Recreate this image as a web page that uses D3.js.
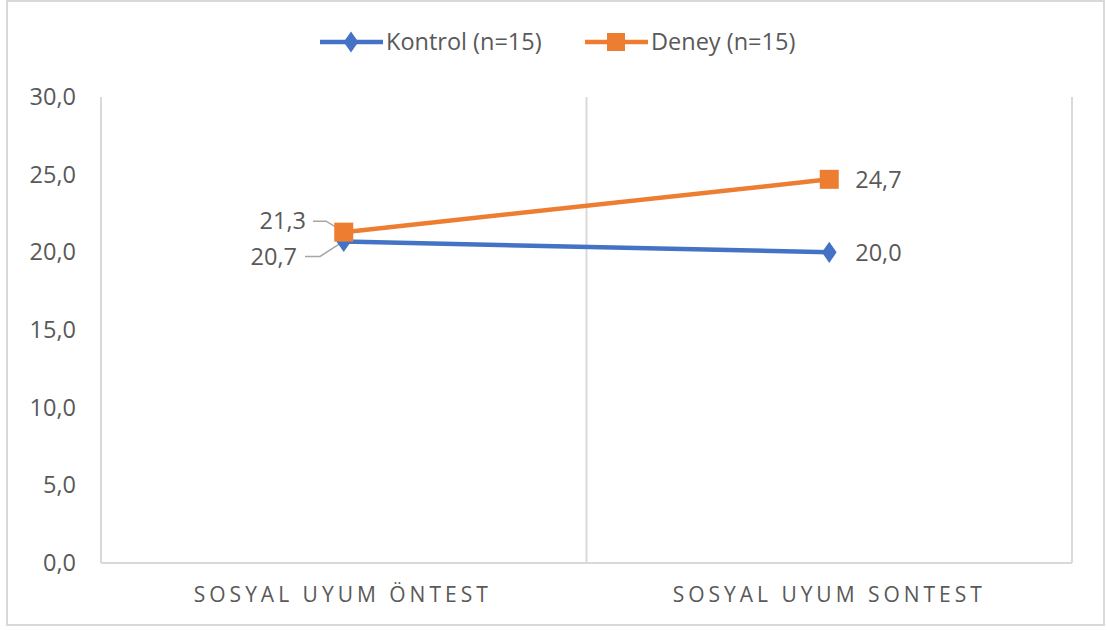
<!DOCTYPE html>
<html><head><meta charset="utf-8">
<script src="https://cdn.jsdelivr.net/npm/d3@7"></script>
<style>
html,body{margin:0;padding:0;background:#fff;}
svg{display:block;}
</style></head>
<body>
<script>
const categories = ["SOSYAL UYUM ÖNTEST", "SOSYAL UYUM SONTEST"];
const seriesNames = ["Kontrol (n=15)", "Deney (n=15)"];
const kontrolValues = [20.7, 20.0];
const deneyValues = [21.3, 24.7];
const yTicks = [0, 5, 10, 15, 20, 25, 30];

const W = 1107, H = 630;
const margin = {left: 101, right: 35, top: 97, bottom: 67};
const svg = d3.select("body").append("svg").attr("width", W).attr("height", H);
const FS = 23.5;

// outer border
svg.append("rect").attr("x", 7).attr("y", 1).attr("width", 1097).attr("height", 624)
  .attr("fill", "#fff").attr("stroke", "#d9d9d9").attr("stroke-width", 2);

const x = d3.scaleBand().domain(categories).range([margin.left, W - margin.right]);
const y = d3.scaleLinear().domain([0, 30]).range([H - margin.bottom, margin.top]);

// vertical category gridlines
const bounds = [x.range()[0], ...categories.map(c => x(c) + x.bandwidth())];
svg.append("g").selectAll("line").data(bounds).join("line")
  .attr("x1", d => d).attr("x2", d => d)
  .attr("y1", y(30)).attr("y2", y(0))
  .attr("stroke", "#d9d9d9").attr("stroke-width", 2);

// bottom axis line
svg.append("line").attr("x1", x.range()[0]).attr("x2", x.range()[1])
  .attr("y1", y(0)).attr("y2", y(0)).attr("stroke", "#d9d9d9").attr("stroke-width", 2);

const fmt = v => d3.format(".1f")(v).replace(".", ",");

// y axis labels
const yAxis = d3.axisLeft(y).tickValues(yTicks).tickSize(0).tickPadding(25).tickFormat(fmt);
const gy = svg.append("g").attr("transform", `translate(${margin.left},0)`).call(yAxis);
gy.select(".domain").remove();
gy.selectAll("text").attr("font-family", "'Open Sans', sans-serif").attr("font-size", FS)
  .attr("fill", "#595959");

// x axis labels
const xAxis = d3.axisBottom(x).tickSize(0).tickPadding(24);
const gx = svg.append("g").attr("transform", `translate(0,${y(0)})`).call(xAxis);
gx.select(".domain").remove();
const labelWidths = [294, 309];
gx.selectAll("text").attr("font-family", "'Liberation Sans Narrow', 'Open Sans', sans-serif")
  .attr("font-size", 21).attr("fill", "#595959")
  .attr("x", (d, i) => i === 0 ? -3 : -2)
  .attr("textLength", (d, i) => labelWidths[i]).attr("lengthAdjust", "spacing");

const cx = c => x(c) + x.bandwidth() / 2;
const line = d3.line().x((d, i) => cx(categories[i])).y(d => y(d));

const blue = "#4472c4", orange = "#ed7d31";

// label leader lines (first category)
const d0 = y(deneyValues[0]), k0 = y(kontrolValues[0]);
const leader = svg.append("g").attr("fill", "none").attr("stroke", "#a6a6a6").attr("stroke-width", 1.5);
leader.append("path").attr("d", `M313,${d0 - 11} L326,${d0 - 11} L341,${d0 - 2}`);
leader.append("path").attr("d", `M305,${k0 + 15} L320,${k0 + 15} L345,${k0 - 1}`);

// lines
svg.append("path").datum(kontrolValues).attr("d", line).attr("fill", "none")
  .attr("stroke", blue).attr("stroke-width", 4.5);
svg.append("path").datum(deneyValues).attr("d", line).attr("fill", "none")
  .attr("stroke", orange).attr("stroke-width", 4.5);

// markers
const diamond = d3.symbol().type(d3.symbolDiamond).size(130);
svg.append("g").selectAll("path").data(kontrolValues).join("path")
  .attr("d", diamond)
  .attr("transform", (d, i) => `translate(${cx(categories[i])},${y(d)}) scale(1.2,1)`)
  .attr("fill", blue);
svg.append("g").selectAll("rect").data(deneyValues).join("rect")
  .attr("x", (d, i) => cx(categories[i]) - 9.5).attr("y", d => y(d) - 9.5)
  .attr("width", 19).attr("height", 19).attr("fill", orange);

// data labels
const lab = svg.append("g").attr("font-family", "'Open Sans', sans-serif").attr("font-size", FS)
  .attr("fill", "#595959");
lab.append("text").attr("x", 306).attr("y", d0 - 11).attr("dy", "0.35em")
  .attr("text-anchor", "end").text(fmt(deneyValues[0]));
lab.append("text").attr("x", 297).attr("y", k0 + 15).attr("dy", "0.35em")
  .attr("text-anchor", "end").text(fmt(kontrolValues[0]));
lab.append("text").attr("x", cx(categories[1]) + 26).attr("y", y(deneyValues[1])).attr("dy", "0.35em")
  .text(fmt(deneyValues[1]));
lab.append("text").attr("x", cx(categories[1]) + 26).attr("y", y(kontrolValues[1])).attr("dy", "0.35em")
  .text(fmt(kontrolValues[1]));

// legend
const legend = svg.append("g").attr("font-family", "'Open Sans', sans-serif").attr("font-size", FS)
  .attr("fill", "#595959");
const legendItems = [
  {name: seriesNames[0], color: blue, x0: 320, type: "diamond"},
  {name: seriesNames[1], color: orange, x0: 585, type: "square"}
];
const ly = 42;
legendItems.forEach(it => {
  legend.append("line").attr("x1", it.x0).attr("x2", it.x0 + 63).attr("y1", ly).attr("y2", ly)
    .attr("stroke", it.color).attr("stroke-width", 4.5);
  if (it.type === "diamond") {
    legend.append("path").attr("d", diamond)
      .attr("transform", `translate(${it.x0 + 31},${ly}) scale(1.2,1)`).attr("fill", it.color);
  } else {
    legend.append("rect").attr("x", it.x0 + 31 - 9).attr("y", ly - 9).attr("width", 18).attr("height", 18)
      .attr("fill", it.color);
  }
  legend.append("text").attr("x", it.x0 + 66).attr("y", ly).attr("dy", "0.35em").text(it.name);
});
</script>
</body></html>
